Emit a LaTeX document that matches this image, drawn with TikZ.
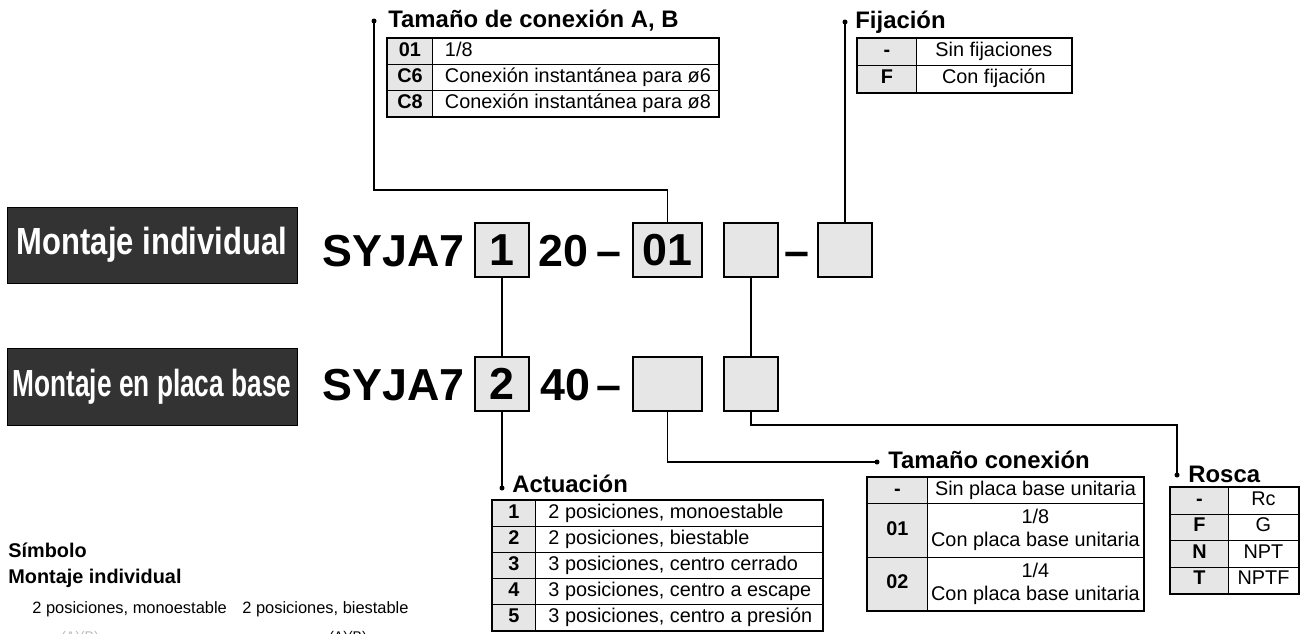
\documentclass[tikz,border=0pt]{standalone}
\usepackage{fontspec}
\setmainfont{Liberation Sans}
\usepackage{graphicx}
\usepackage{tikz}
\definecolor{CellGray}{RGB}{230, 230, 230}
\definecolor{LabelDark}{RGB}{51, 51, 51}
\definecolor{NoteGray}{RGB}{140, 140, 140}
\newcommand{\pxu}{0.02cm}
\newcommand{\tabfont}{\fontsize{11.3}{13}\selectfont}
\newcommand{\ttlfont}{\fontsize{13.6}{16}\selectfont\bfseries}
\newcommand{\partfont}{\fontsize{25.5}{30}\selectfont\bfseries}
\newcommand{\cellstrut}{\rule[-2.6pt]{0pt}{10.6pt}}
\newcommand{\mountlabel}[2]{\scalebox{#1}[1]{\fontsize{21.5}{26}\selectfont\bfseries #2}}
\tikzset{
  cell/.style={draw, line width=0.5pt, inner sep=0pt, anchor=north west, font=\tabfont,
    execute at begin node=\cellstrut},
  codecell/.style={cell, fill=CellGray, font=\tabfont\bfseries},
  frame/.style={line width=0.8pt},
  ttl/.style={anchor=base west, inner sep=0pt, font=\ttlfont},
  dot/.style={circle, fill, inner sep=0pt, minimum size=5*\pxu},
  conn/.style={line width=0.9pt},
  selbox/.style={draw, line width=1.1pt, fill=CellGray, inner sep=0pt,
    minimum width=54*\pxu, minimum height=54*\pxu, font=\partfont},
  part/.style={anchor=base west, inner sep=0pt, font=\partfont},
  mount/.style={draw, fill=LabelDark, text=white, inner sep=0pt,
    minimum width=290*\pxu, minimum height=76*\pxu},
  note/.style={anchor=base west, inner sep=0pt, font=\fontsize{9.35}{11}\selectfont}
}

\begin{document}
\begin{tikzpicture}[x=0.02cm, y=-0.02cm]
  \useasboundingbox (0,0) rectangle (1300,633);
  \clip (0,0) rectangle (1300,633);

  % Mounting labels
  \node[mount] (mind) at (152,245) {\raisebox{-2pt}{\mountlabel{0.82}{Montaje individual}}};
  \node[mount, minimum height=77*\pxu] (mbase) at (152,386.5) {\mountlabel{0.695}{Montaje en placa base}};

  % Part number, individual
  \node[part] (syja1) at (322,266) {SYJA7};
  \node[selbox] (b1) at (502,250) {1};
  \node[part] (n20) at (538,266) {20};
  \node[part] (dash1) at (596,266) {–};
  \node[selbox, minimum width=69*\pxu] (b01) at (667.5,250) {01};
  \node[selbox] (bx1) at (751,250) {};
  \node[part] (dash2) at (784,266) {–};
  \node[selbox] (bfij) at (845,250) {};

  % Part number, base mounted
  \node[part] (syja2) at (322,400) {SYJA7};
  \node[selbox] (b2) at (502,384) {2};
  \node[part] (n40) at (540,400) {40};
  \node[part] (dash3) at (596,400) {–};
  \node[selbox, minimum width=69*\pxu] (bw2) at (667.5,384) {};
  \node[selbox] (bx2) at (751,384) {};

  % Tamaño de conexión A, B
  \node[dot] (abdot) at (374,21) {};
  \node[ttl] (abttl) at (388,27) {Tamaño de conexión A, B};
  \foreach \c/\t [count=\i] in {01/{1/8}, C6/{Conexión instantánea para ø6}, C8/{Conexión instantánea para ø8}} {
    \node[codecell, minimum width=45*\pxu, minimum height=26*\pxu] (ab-c\i) at (387,{38+26*(\i-1)}) {\c};
    \node[cell, minimum width=286*\pxu, minimum height=26*\pxu] (ab-t\i) at (432,{38+26*(\i-1)}) {\makebox[5.22cm][l]{\t}};
  }
  \draw[frame] (ab-c1.north west) rectangle (ab-t3.south east);

  % Fijación
  \node[dot] (fijdot) at (845,22) {};
  \node[ttl] (fijttl) at (855,28) {Fijación};
  \foreach \c/\t [count=\i] in {-/Sin fijaciones, F/Con fijación} {
    \node[codecell, minimum width=59*\pxu, minimum height=27*\pxu] (fij-c\i) at (857,{38+27*(\i-1)}) {\c};
    \node[cell, minimum width=155*\pxu, minimum height=27*\pxu] (fij-t\i) at (916,{38+27*(\i-1)}) {\t};
  }
  \draw[frame] (fij-c1.north west) rectangle (fij-t2.south east);

  % Actuación
  \node[dot] (actdot) at (502,488) {};
  \node[ttl] (actttl) at (512,492) {Actuación};
  \foreach \c/\t [count=\i] in {1/{2 posiciones, monoestable}, 2/{2 posiciones, biestable}, 3/{3 posiciones, centro cerrado}, 4/{3 posiciones, centro a escape}, 5/{3 posiciones, centro a presión}} {
    \node[codecell, minimum width=43*\pxu, minimum height=26*\pxu] (act-c\i) at (492,{500+26*(\i-1)}) {\c};
    \node[cell, minimum width=287*\pxu, minimum height=26*\pxu] (act-t\i) at (535,{500+26*(\i-1)}) {\makebox[5.22cm][l]{\t}};
  }
  \draw[frame] (act-c1.north west) rectangle (act-t5.south east);

  % Tamaño conexión
  \node[dot] (tcdot) at (877,462) {};
  \node[ttl] (tcttl) at (888,468) {Tamaño conexión};
  \foreach \c/\t/\h/\y [count=\i] in {-/{Sin placa base unitaria}/26/477, 01/{1/8\\Con placa base unitaria}/54/503, 02/{1/4\\Con placa base unitaria}/53/557} {
    \node[codecell, minimum width=60*\pxu, minimum height=\h*\pxu] (tc-c\i) at (867,\y) {\c};
    \node[cell, minimum width=216*\pxu, minimum height=\h*\pxu, align=center] (tc-t\i) at (927,\y) {\t};
  }
  \draw[frame] (tc-c1.north west) rectangle (tc-t3.south east);

  % Rosca
  \node[dot] (rosdot) at (1177,475) {};
  \node[ttl] (rosttl) at (1188,482) {Rosca};
  \foreach \c/\t [count=\i] in {-/Rc, F/G, N/NPT, T/NPTF} {
    \node[codecell, minimum width=58*\pxu, minimum height=26.5*\pxu] (ros-c\i) at (1170,{487+26.5*(\i-1)}) {\c};
    \node[cell, minimum width=70*\pxu, minimum height=26.5*\pxu] (ros-t\i) at (1228,{487+26.5*(\i-1)}) {\t};
  }
  \draw[frame] (ros-c1.north west) rectangle (ros-t4.south east);

  % Leader lines
  \coordinate (abknee) at (374,190);
  \coordinate (rosknee) at (751,425);
  \draw[conn] (abdot.center) -- (abknee) -| (b01.north);
  \draw[conn] (fijdot.center) -- (bfij.north);
  \draw[conn] (b1.south) -- (b2.north);
  \draw[conn] (b2.south) -- (actdot.center);
  \draw[conn] (bx1.south) -- (bx2.north);
  \draw[conn] (bw2.south) |- (tcdot.center);
  \draw[conn] (bx2.south) -- (rosknee) -| (rosdot.center);

  % Symbol notes
  \node[note, font=\fontsize{11.3}{13}\selectfont\bfseries] (simb) at (8,557) {Símbolo};
  \node[note, font=\fontsize{11.3}{13}\selectfont\bfseries] (simbind) at (8,583) {Montaje individual};
  \node[note] (sym1) at (32,613) {2 posiciones, monoestable};
  \node[note] (sym2) at (242,613) {2 posiciones, biestable};
  \node[note, anchor=base, text=NoteGray!60, font=\fontsize{8}{9}\selectfont] (symab1) at (80,641) {(A)(B)};
  \node[note, anchor=base, font=\fontsize{8}{9}\selectfont] (symab2) at (348,641) {(A)(B)};
\end{tikzpicture}
\end{document}
